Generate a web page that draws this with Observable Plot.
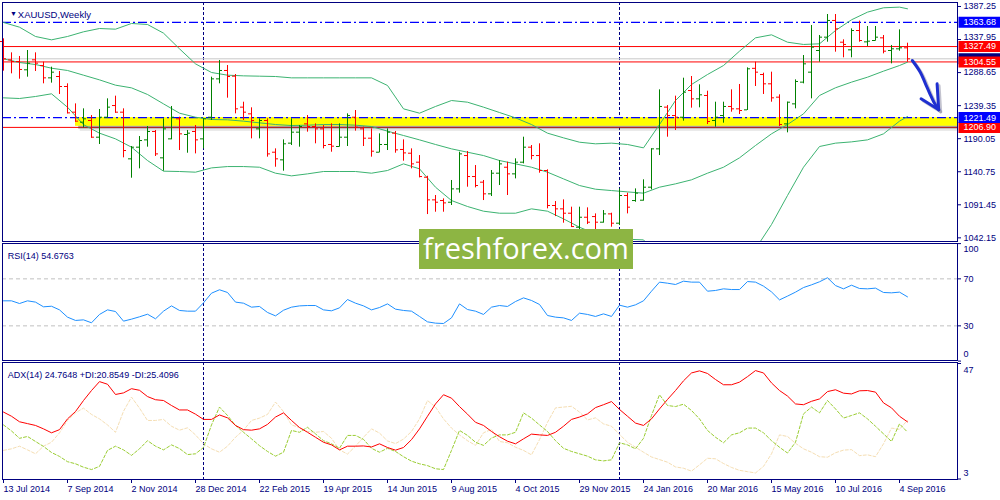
<!DOCTYPE html>
<html><head><meta charset="utf-8">
<script src="https://cdn.jsdelivr.net/npm/d3@7"></script>
<script src="https://cdn.jsdelivr.net/npm/@observablehq/plot@0.6"></script>
<style>
html,body{margin:0;padding:0;background:#fff;}
#chart{position:relative;width:1000px;height:500px;overflow:hidden;background:#fff;}
#chart svg{position:absolute;left:0;}
#wm{position:absolute;left:419px;top:229px;width:214px;height:40px;background:#8db543;color:#fff;font-family:"Open Sans",sans-serif;font-size:29px;line-height:38px;text-align:center;}
</style></head><body><div id="chart"></div>
<script>
// ---------- DATA ----------
const startWeek = "2014-07-13";
const opens = [1335.0,1307.7,1305.2,1292.8,1307.7,1299.2,1280.8,1282.8,1267.9,1229.6,
 1214.7,1217.2,1192.3,1222.1,1239.5,1229.6,1160.0,1177.4,1188.3,1200.8,
 1161.5,1189.8,1219.7,1196.3,1200.8,1189.8,1222.1,1279.3,1291.8,1283.3,
 1237.1,1227.1,1204.7,1217.2,1169.9,1158.5,1183.4,1199.8,1212.2,1208.2,
 1204.7,1181.4,1178.4,1192.3,1222.1,1204.7,1190.8,1169.9,1181.4,1198.3,
 1174.0,1168.4,1155.0,1132.6,1098.8,1097.8,1095.3,1115.2,1164.9,1133.6,
 1125.2,1107.8,1138.6,1147.5,1137.6,1155.0,1177.4,1164.9,1142.6,1090.4,
 1085.4,1078.9,1058.0,1072.9,1073.9,1065.5,1077.9,1064.0,1105.3,1097.8,
 1098.3,1117.7,1174.9,1237.1,1224.6,1222.1,1261.9,1249.5,1254.5,1217.2,
 1224.6,1238.1,1234.6,1233.1,1295.0,1285.8,1271.9,1252.0,1212.2,1242.0,
 1274.4,1289.3,1321.6,1341.5,1366.4,1334.0,1322.6,1351.4,1334.5,1336.5,
 1340.5,1321.6,1324.1,1325.6];
const highs = [1339.0,1318.1,1312.7,1321.6,1318.1,1304.2,1296.7,1290.3,1271.9,1242.0,
 1234.6,1224.6,1233.6,1249.5,1253.5,1234.6,1178.4,1193.3,1208.2,1202.3,
 1219.7,1238.1,1222.1,1202.3,1209.7,1219.7,1281.8,1306.7,1299.2,1285.8,
 1244.5,1236.1,1219.7,1219.7,1174.9,1188.3,1219.7,1209.7,1224.6,1212.2,
 1209.7,1212.2,1212.2,1227.1,1232.1,1207.2,1204.7,1197.3,1204.7,1200.8,
 1188.3,1174.9,1164.9,1134.0,1105.3,1100.3,1127.7,1169.9,1170.9,1150.0,
 1127.7,1142.6,1157.5,1155.0,1160.0,1192.3,1179.9,1182.4,1143.6,1096.3,
 1098.8,1087.9,1087.9,1086.9,1077.9,1082.9,1078.9,1115.2,1108.8,1115.2,
 1128.7,1174.9,1262.9,1239.5,1253.5,1280.3,1282.8,1270.4,1260.9,1244.5,
 1244.5,1262.9,1270.9,1295.7,1304.2,1287.8,1289.3,1255.5,1244.5,1277.8,
 1314.1,1358.9,1344.0,1375.3,1375.3,1337.5,1353.9,1365.4,1357.4,1357.4,
 1344.0,1329.1,1352.4,1332.5];
const lows = [1290.8,1286.8,1278.8,1281.8,1290.3,1271.9,1272.9,1256.0,1227.1,1214.7,
 1206.2,1190.8,1181.4,1221.1,1228.1,1161.5,1131.1,1145.1,1177.4,1163.5,
 1141.6,1188.3,1172.4,1168.4,1167.4,1174.9,1217.2,1271.9,1250.5,1227.1,
 1217.2,1189.8,1189.8,1162.5,1147.5,1141.6,1179.9,1177.4,1199.8,1182.4,
 1174.9,1169.9,1177.4,1178.4,1201.3,1178.4,1162.5,1168.9,1172.4,1168.4,
 1156.5,1145.1,1131.6,1076.9,1080.4,1080.4,1090.4,1108.8,1117.7,1116.7,
 1097.8,1103.8,1120.2,1105.3,1130.1,1152.5,1158.5,1138.6,1085.4,1073.9,
 1064.0,1058.0,1053.1,1062.0,1053.1,1064.0,1058.0,1060.5,1077.9,1095.3,
 1096.8,1113.7,1164.9,1192.3,1202.3,1216.2,1235.6,1236.1,1211.2,1207.2,
 1213.2,1229.6,1226.1,1232.1,1267.9,1256.0,1244.5,1208.2,1198.8,1234.6,
 1271.9,1249.5,1304.2,1334.0,1319.1,1310.7,1310.7,1334.0,1327.6,1335.5,
 1316.6,1301.7,1320.6,1304.2];
const closes = [1309.2,1305.2,1293.3,1302.7,1302.7,1280.8,1289.3,1267.9,1228.6,1216.2,
 1219.7,1192.3,1222.1,1237.1,1229.6,1172.4,1177.4,1187.3,1200.8,1167.4,
 1204.7,1222.1,1197.3,1198.3,1188.3,1219.7,1279.3,1291.8,1282.8,1234.6,
 1229.6,1217.2,1217.2,1167.4,1160.0,1182.4,1199.8,1208.2,1208.2,1204.7,
 1179.9,1178.9,1192.3,1224.6,1207.2,1190.8,1171.4,1181.4,1199.8,1173.4,
 1168.9,1152.5,1133.6,1098.8,1095.3,1094.3,1115.2,1167.4,1133.6,1120.2,
 1107.8,1138.6,1152.5,1137.6,1155.0,1177.4,1164.9,1142.6,1090.4,1085.4,
 1078.9,1059.0,1072.9,1065.5,1065.5,1077.9,1064.0,1105.3,1087.9,1108.8,
 1117.7,1174.9,1238.1,1224.6,1222.1,1259.4,1249.5,1255.5,1215.7,1222.1,
 1238.1,1234.6,1232.1,1294.3,1289.3,1271.9,1251.0,1211.2,1244.5,1275.4,
 1301.7,1326.6,1341.5,1366.4,1353.9,1330.6,1351.4,1336.5,1335.5,1341.5,
 1320.6,1324.1,1325.6,1309.2];

// Bollinger bands (read every two weeks, plus the last week)
const bandWeeks = [0,2,4,6,8,10,12,14,16,18,20,22,24,26,28,30,32,34,36,38,40,42,44,46,48,50,52,54,56,58,
 60,62,64,66,68,70,72,74,76,78,80,82,84,86,88,90,92,94,96,98,100,102,104,106,108,110,112,113];
const bandUpper = [1363.4,1356.4,1342.5,1337.5,1342.5,1349.5,1354.4,1353.4,1361.9,1360.4,
 1347.5,1324.1,1301.7,1288.8,1284.8,1283.8,1283.3,1282.8,1280.8,1280.8,
 1280.8,1280.8,1280.8,1280.8,1269.4,1234.6,1228.1,1238.1,1247.0,1244.5,
 1237.1,1229.1,1221.1,1211.2,1198.3,1191.3,1184.8,1182.4,1183.4,1181.4,
 1176.4,1211.2,1247.0,1270.9,1285.8,1299.2,1320.6,1340.5,1345.0,1334.0,
 1330.6,1331.6,1351.4,1367.4,1378.8,1385.3,1386.3,1383.8];
const bandMiddle = [1309.2,1303.7,1300.7,1295.2,1291.8,1284.8,1277.8,1269.9,1265.9,1256.0,
 1242.0,1228.1,1222.1,1218.7,1218.2,1216.2,1213.7,1211.2,1209.7,1210.2,
 1211.2,1211.2,1210.2,1208.2,1201.3,1194.8,1188.3,1181.4,1174.9,1169.9,
 1164.9,1157.5,1152.5,1147.5,1140.1,1130.1,1120.2,1114.7,1112.7,1110.7,
 1108.8,1117.7,1122.7,1128.7,1138.6,1147.5,1161.5,1179.9,1197.3,1211.2,
 1227.1,1254.5,1266.0,1274.4,1281.8,1290.8,1299.2,1304.2];
const bandLower = [1251.0,1250.0,1253.0,1257.0,1237.0,1211.0,1198.3,1189.8,1177.4,1157.5,
 1141.6,1141.1,1140.1,1146.5,1148.5,1148.5,1147.5,1138.6,1134.6,1137.6,
 1141.1,1141.1,1141.1,1138.6,1142.6,1152.5,1145.1,1117.7,1097.8,1088.9,
 1081.9,1078.9,1078.9,1085.4,1081.9,1070.5,1058.0,1048.1,1042.1,1040.1,
 1039.1,1013.3,988.4,968.5,963.5,973.5,998.4,1025.7,1062.0,1105.3,
 1147.5,1178.4,1183.4,1185.3,1188.3,1197.3,1216.2,1223.1];

const rsi = [51.3,51.3,49.0,51.3,50.2,46.2,46.7,43.6,37.4,34.6,
 35.1,32.6,39.7,43.6,42.2,34.0,35.7,37.7,39.9,36.0,
 42.5,47.0,43.1,42.5,42.5,49.6,57.8,60.7,58.4,50.2,
 49.3,45.9,46.5,41.4,38.5,43.3,45.9,47.0,47.3,47.3,
 43.6,42.8,45.3,52.4,49.3,47.0,43.6,45.6,48.7,44.2,
 43.1,42.5,38.0,33.4,32.3,32.0,36.8,48.7,43.9,42.5,
 39.7,45.9,47.3,46.5,50.7,53.8,51.6,48.2,38.8,37.4,
 36.8,34.6,40.8,39.7,38.0,40.2,38.0,47.6,45.9,47.9,
 51.3,59.5,67.2,66.3,65.2,68.0,67.2,67.2,59.5,60.1,
 61.5,60.9,60.9,67.7,67.2,63.8,58.9,52.1,55.3,58.7,
 62.6,64.9,67.5,70.9,64.3,61.5,64.6,61.8,61.5,62.1,
 58.4,58.1,58.7,54.6763];
const adx = [28.5,26.9,24.8,24.1,23.4,22.1,20.6,21.8,25.9,28.7,
 32.9,36.7,40.1,39.1,35.2,35.8,37.4,36.8,34.4,33.2,
 32.9,31.0,29.3,29.3,27.7,25.7,25.7,27.4,26.3,23.4,
 21.8,21.6,22.1,23.8,26.6,28.2,25.3,22.6,20.8,18.9,
 17.0,16.0,14.1,15.5,15.5,15.6,15.2,16.4,15.0,14.0,
 15.0,18.0,22.1,26.9,31.6,35.1,33.8,30.6,27.7,24.6,
 23.4,21.1,19.1,17.4,16.4,18.3,20.1,19.8,19.6,20.8,
 23.1,25.7,26.6,27.8,30.2,31.3,32.5,29.5,26.9,24.3,
 23.4,25.9,29.7,33.3,36.7,40.4,43.4,44.2,43.2,40.9,
 38.9,38.9,39.9,42.0,44.3,43.4,39.6,36.7,34.6,31.6,
 31.3,32.6,33.5,36.3,37.0,35.7,35.4,36.6,36.7,36.1,
 32.0,30.1,26.9,24.7648];
const plusDI = [23.6,21.3,18.5,19.2,17.3,15.4,13.1,11.6,9.6,8.8,
 7.5,6.6,7.8,13.9,15.5,14.1,12.0,14.5,17.6,15.5,
 14.1,16.0,14.6,12.3,12.6,15.0,23.6,30.4,27.2,23.4,
 20.8,18.3,15.7,13.5,11.7,13.2,21.5,20.8,22.7,20.2,
 17.6,16.4,14.7,19.6,19.6,18.1,14.7,13.2,14.7,13.5,
 11.5,9.8,8.8,8.1,6.9,6.6,13.9,21.5,19.6,17.0,
 15.8,18.6,19.8,19.8,20.8,28.2,26.2,23.6,21.1,17.6,
 14.7,13.5,12.6,11.7,10.3,9.9,10.3,16.8,16.0,14.5,
 18.5,27.2,35.1,31.0,30.6,31.5,29.1,25.9,21.5,18.9,
 16.8,19.8,20.6,22.4,22.4,20.6,17.6,15.1,12.9,17.0,
 27.8,30.4,28.2,32.9,29.7,26.2,27.2,28.2,25.9,23.1,
 20.2,17.3,24.0,20.8549];
const minusDI = [13.9,14.5,15.5,14.1,12.6,15.5,17.0,20.6,25.3,28.2,
 30.0,27.6,25.9,23.6,20.8,28.8,34.2,30.0,25.3,25.3,
 25.7,23.1,21.6,22.5,19.8,16.4,14.5,13.2,15.5,18.9,
 21.6,25.3,26.2,27.6,32.3,28.7,23.6,22.6,21.1,20.8,
 21.1,18.5,14.1,12.5,15.5,18.9,22.1,20.5,17.5,16.5,
 18.2,21.1,25.9,32.9,30.4,25.9,22.4,19.8,17.6,15.8,
 20.6,21.9,17.3,16.8,15.1,13.9,12.2,18.0,24.6,30.1,
 30.4,30.7,28.5,25.5,26.3,24.0,23.1,20.0,17.0,15.1,
 13.2,11.4,10.4,9.4,7.6,7.1,6.0,8.4,10.9,10.7,
 8.9,7.4,6.3,5.8,5.3,7.8,12.6,19.8,19.2,16.6,
 14.5,13.2,11.5,11.3,13.0,14.0,14.2,11.9,12.2,11.5,
 16.4,22.4,21.9,25.4096];

const blueLevels = [1363.68, 1221.49];
const redLevels = [1327.49, 1304.55, 1206.90];
const zoneWeeks = [9, 125];              // yellow support zone, from bar 9 to the right edge
const zonePrices = [1221.49, 1208.5];
const priceTicks = [1387.25, 1337.95, 1288.65, 1239.35, 1190.05, 1140.75, 1091.45, 1042.15];
const coveredTick = 1337.95;             // label half hidden by the 1327.49 box
const rsiTicks = [30, 70];
const rsiEnds = [100, 0];
const adxEnds = [47, 3];
const yearWeeks = [25, 77];
const dateTickWeeks = [0,8,16,24,32,40,48,56,64,72,80,88,96,104,112];
const dateTickLabels = ["13 Jul 2014","7 Sep 2014","2 Nov 2014","28 Dec 2014","22 Feb 2015","19 Apr 2015",
 "14 Jun 2015","9 Aug 2015","4 Oct 2015","29 Nov 2015","24 Jan 2016","20 Mar 2016","15 May 2016","10 Jul 2016","4 Sep 2016"];
const arrowShaft = [[113.6,1306.7],[114.6,1289.2],[115.25,1271.9],[115.8,1257.0],[116.3,1244.5],[116.9,1233.1]];
const arrowHead = [[114.7,1249.5],[116.9,1233.1],[116.7,1271.9]];

// ---------- BUILD ----------
const t0 = Date.parse(startWeek);
const WEEK = 7 * 864e5;
const wk = i => new Date(t0 + i * WEEK);
const NAVY = "#000080";
const FONT = '"Liberation Sans", Arial, sans-serif';
const bars = opens.map((o, i) => ({i, date: wk(i), open: o, high: highs[i], low: lows[i], close: closes[i], up: closes[i] >= o}));
const up = bars.filter(d => d.up), down = bars.filter(d => !d.up);
const bands = bandWeeks.map((w, k) => ({date: wk(w), upper: bandUpper[k], middle: bandMiddle[k], lower: bandLower[k]}));
const series = arr => arr.map((v, i) => ({date: wk(i), v}));
const bid = closes[closes.length - 1];
const xScale = {type: "utc", domain: [wk(0), wk(113)], range: [3, 907]};
const seps = yearWeeks.map(wk);
const boxSym = {draw(ctx) { ctx.rect(-21, -5.5, 42, 11); }};
const style = {fontFamily: FONT, fontSize: "9px", color: NAVY, background: "transparent", overflow: "visible"};
const f4 = v => v.toFixed(4);

function barMarks(data, color) {
  return [
    Plot.ruleX(data, {x: "date", y1: "low", y2: "high", stroke: color}),
    Plot.ruleY(data, {y: "open", x1: d => wk(d.i - 0.375), x2: "date", stroke: color}),
    Plot.ruleY(data, {y: "close", x1: "date", x2: d => wk(d.i + 0.375), stroke: color})
  ];
}

const main = Plot.plot({
  width: 1000, height: 242, marginLeft: 2, marginRight: 43, marginTop: 2, marginBottom: 1,
  style,
  x: {...xScale, axis: null},
  y: {domain: [1038.2, 1393.2], range: [240, 2], label: null},
  marks: [
    Plot.ruleX(seps, {x: d => d, stroke: NAVY, strokeDasharray: "3,2"}),
    Plot.ruleY([bid], {stroke: "#c8c8c8"}),
    Plot.ruleY(redLevels, {stroke: "#ff0000"}),
    Plot.rect([zoneWeeks], {x1: d => wk(d[0]), x2: d => wk(d[1]), y1: () => zonePrices[0], y2: () => zonePrices[1], fill: "#ffff00", clip: true}),
    Plot.rect([zoneWeeks], {x1: d => wk(d[0] + 0.4), x2: d => wk(d[1]), y1: () => zonePrices[1], y2: () => zonePrices[1] - 4.2, fill: "#4a3a3a", fillOpacity: 0.45, clip: true}),
    Plot.rect([zoneWeeks], {x1: d => wk(d[0] + 0.6), x2: d => wk(d[1]), y1: () => zonePrices[1] - 4.2, y2: () => zonePrices[1] - 7.5, fill: "#808080", fillOpacity: 0.2, clip: true}),
    Plot.ruleY(blueLevels, {stroke: "#0000ff", strokeWidth: 1.3, strokeDasharray: "9,3,2,3"}),
    Plot.line(bands, {x: "date", y: "upper", stroke: "#3cb371", strokeWidth: 1, clip: true}),
    Plot.line(bands, {x: "date", y: "middle", stroke: "#3cb371", strokeWidth: 1, clip: true}),
    Plot.line(bands, {x: "date", y: "lower", stroke: "#3cb371", strokeWidth: 1, clip: true}),
    ...barMarks(up, "#008000"),
    ...barMarks(down, "#ff0000"),
    Plot.line(arrowShaft, {x: d => wk(d[0]), y: d => d[1], dx: 2, dy: 2, stroke: "#8888a0", strokeOpacity: 0.5, strokeWidth: 3, curve: "catmull-rom"}),
    Plot.line(arrowHead, {x: d => wk(d[0]), y: d => d[1], dx: 2, dy: 2, stroke: "#8888a0", strokeOpacity: 0.5, strokeWidth: 3}),
    Plot.line(arrowShaft, {x: d => wk(d[0]), y: d => d[1], stroke: "#1f2fd0", strokeWidth: 3, curve: "catmull-rom", strokeLinecap: "round"}),
    Plot.line(arrowHead, {x: d => wk(d[0]), y: d => d[1], stroke: "#1f2fd0", strokeWidth: 3, strokeLinecap: "round", strokeLinejoin: "round"}),
    Plot.axisY({anchor: "right", ticks: priceTicks, tickFormat: d => d === coveredTick ? "" : d.toFixed(2), tickSize: 3, tickPadding: 3, stroke: NAVY, fill: NAVY, label: null}),
    Plot.text([coveredTick], {y: d => d, text: d => d.toFixed(2), frameAnchor: "right", dx: 6, dy: -2.5, textAnchor: "start", fill: NAVY}),
    Plot.dot([bid], {y: d => d, frameAnchor: "right", dx: 22, symbol: boxSym, fill: NAVY, stroke: null}),
    Plot.dot(redLevels, {y: d => d, frameAnchor: "right", dx: 22, symbol: boxSym, fill: "#ff0000", stroke: null}),
    Plot.dot(blueLevels, {y: d => d, frameAnchor: "right", dx: 22, symbol: boxSym, fill: "#0000ff", stroke: null}),
    Plot.text([...redLevels, ...blueLevels], {y: d => d, text: d => d.toFixed(2), frameAnchor: "right", dx: 6, textAnchor: "start", fill: "#ffffff"}),
    Plot.text(["\u25BC"], {text: d => d, frameAnchor: "top-left", dx: 7.5, dy: 8.5, fontSize: 7, fill: NAVY}),
    Plot.text(["XAUUSD,Weekly"], {text: d => d, frameAnchor: "top-left", dx: 15.3, dy: 8.7, textAnchor: "start", fontSize: 9.5, fill: NAVY}),
    Plot.frame({stroke: NAVY})
  ]
});

const rsiPlot = Plot.plot({
  width: 1000, height: 119, marginLeft: 2, marginRight: 43, marginTop: 1, marginBottom: 1,
  style,
  x: {...xScale, axis: null},
  y: {domain: [0, 100], range: [118.6, 1.1], label: null},
  marks: [
    Plot.ruleY(rsiTicks, {stroke: "#c0c0c0", strokeDasharray: "4,3"}),
    Plot.ruleX(seps, {x: d => d, stroke: NAVY, strokeDasharray: "3,2"}),
    Plot.line(series(rsi), {x: "date", y: "v", stroke: "#1e90ff", strokeWidth: 1}),
    Plot.axisY({anchor: "right", ticks: [...rsiTicks, ...rsiEnds], tickFormat: d => rsiTicks.includes(d) ? String(d) : "", tickSize: 3, tickPadding: 3, stroke: NAVY, fill: NAVY, label: null}),
    Plot.text([rsiEnds[0]], {y: d => d, text: d => String(d), frameAnchor: "right", dx: 6, dy: 6, textAnchor: "start", fill: NAVY}),
    Plot.text([rsiEnds[1]], {y: d => d, text: d => String(d), frameAnchor: "right", dx: 6, dy: -7, textAnchor: "start", fill: NAVY}),
    Plot.text(["RSI(14) " + f4(rsi[rsi.length - 1])], {text: d => d, frameAnchor: "top-left", dx: 5.3, dy: 8.7, textAnchor: "start", fill: NAVY}),
    Plot.frame({stroke: NAVY})
  ]
});

const tickDates = dateTickWeeks.map(wk);
const labelOf = new Map(tickDates.map((d, k) => [+d, dateTickLabels[k]]));
const adxPlot = Plot.plot({
  width: 1000, height: 139, marginLeft: 2, marginRight: 43, marginTop: 1, marginBottom: 21,
  style,
  x: {...xScale, label: null},
  y: {domain: [3, 47], range: [117.5, 2], label: null},
  marks: [
    Plot.ruleX(seps, {x: d => d, stroke: NAVY, strokeDasharray: "3,2"}),
    Plot.line(series(minusDI), {x: "date", y: "v", stroke: "#f5deb3", strokeWidth: 1, strokeDasharray: "3,2"}),
    Plot.line(series(plusDI), {x: "date", y: "v", stroke: "#9acd32", strokeWidth: 1, strokeDasharray: "3,2"}),
    Plot.line(series(adx), {x: "date", y: "v", stroke: "#ff0000", strokeWidth: 1}),
    Plot.axisY({anchor: "right", ticks: adxEnds, tickFormat: () => "", tickSize: 3, stroke: NAVY, label: null}),
    Plot.text([adxEnds[0]], {y: d => d, text: d => String(d), frameAnchor: "right", dx: 6, dy: 7, textAnchor: "start", fill: NAVY}),
    Plot.text([adxEnds[1]], {y: d => d, text: d => String(d), frameAnchor: "right", dx: 6, dy: -6, textAnchor: "start", fill: NAVY}),
    Plot.axisX({anchor: "bottom", ticks: tickDates, tickFormat: d => labelOf.get(+d), tickSize: 4, tickPadding: 2, textAnchor: "start", stroke: NAVY, fill: NAVY, label: null}),
    Plot.text(["ADX(14) " + f4(adx[adx.length - 1]) + " +DI:" + f4(plusDI[plusDI.length - 1]) + " -DI:" + f4(minusDI[minusDI.length - 1])],
      {text: d => d, frameAnchor: "top-left", dx: 5.3, dy: 9, textAnchor: "start", fill: NAVY}),
    Plot.frame({stroke: NAVY})
  ]
});

const root = document.getElementById("chart");
main.style.top = "0px"; rsiPlot.style.top = "242px"; adxPlot.style.top = "361px";
root.append(main, rsiPlot, adxPlot);
const wm = document.createElement("div");
wm.id = "wm"; wm.textContent = "freshforex.com";
root.append(wm);
</script></body></html>
